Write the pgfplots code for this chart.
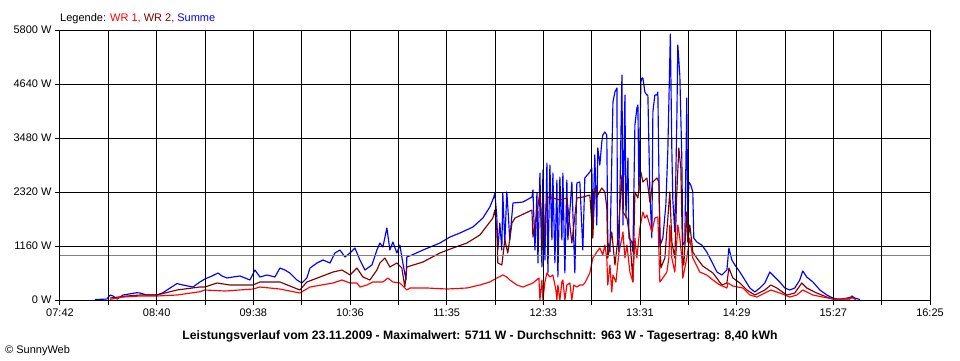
\documentclass[border=0pt]{standalone}
\usepackage{pgfplots}
\pgfplotsset{compat=1.18}
\usepackage{fontspec}
\setmainfont{Liberation Sans}
\definecolor{wr1}{RGB}{255,0,0}
\definecolor{wr2}{RGB}{128,0,0}
\definecolor{summe}{RGB}{0,0,255}
\definecolor{avg}{RGB}{128,128,128}
\newcommand{\lf}{\fontsize{11pt}{13pt}\selectfont}
\begin{document}
\begin{tikzpicture}
\useasboundingbox (-60pt,-60pt) rectangle (900pt,300pt);
\begin{axis}[
  at={(0pt,0pt)}, anchor=south west,
  width=870pt, height=270pt, scale only axis,
  xmin=462, xmax=985, ymin=0, ymax=5800,
  xtick={462,491.056,520.111,549.167,578.222,607.278,636.333,665.389,694.444,723.5,752.556,781.611,810.667,839.722,868.778,897.833,926.889,955.944,985},
  xticklabels={07:42,,08:40,,09:38,,10:36,,11:35,,12:33,,13:31,,14:29,,15:27,,16:25},
  ytick={0,1160,2320,3480,4640,5800},
  yticklabels={0 W,1160 W,2320 W,3480 W,4640 W,5800 W},
  xtick pos=bottom, ytick pos=left,
  tick align=outside, major tick length=5pt,
  grid=major, major grid style={black, line width=1pt},
  axis line style={black, line width=1pt},
  every tick/.style={black, line width=1pt},
  tick label style={font=\lf, text=black},
  axis on top,
  line join=round,
]
\addplot[summe, line width=1.15pt, sharp plot] coordinates {
(483,10)(490.2,20)(492.1,107)(493.9,86)(496.3,21)(499.9,107)(508.3,157)(510.1,150)(514.3,107)(520.3,107)(523.9,157)(532.3,354)(535.9,322)(541.9,279)(546.1,387)(549.1,451)(553.4,516)(557.0,580)(559.4,516)(562.4,473)(566.0,494)(570.2,516)(576.2,430)(579.2,644)(582.2,494)(586.4,537)(591.2,494)(594.2,687)(597.2,644)(600.2,580)(604.4,430)(607.4,365)(610.4,473)(612.3,687)(616.5,795)(620.1,859)(624.3,795)(627.3,1010)(630.3,1074)(633.3,924)(636.3,1010)(639.3,1117)(642.3,859)(645.3,644)(649.5,752)(652.5,1074)(654.3,1224)(656.1,1139)(658.5,1547)(660.3,1074)(662.1,1246)(664.5,1010)(666.3,1181)(668.1,795)(670.0,430)(670.5,924)(673.6,967)(680.2,1074)(690.4,1224)(696.4,1353)(702.4,1439)(710.2,1568)(716.2,1761)(720.4,1998)(722.8,2212)(723.4,2298)(724.6,1783)(725.2,1074)(726.4,1654)(727.6,1074)(728.2,2298)(729.4,1224)(730.6,2320)(731.2,1998)(732.4,1289)(734.3,2084)(740.3,2105)(745.7,2212)(746.3,2363)(747.5,1074)(748.7,2298)(749.3,795)(750.5,2728)(751.7,709)(752.3,2792)(753.5,859)(754.7,2943)(755.3,580)(756.5,2900)(757.7,1289)(758.3,2728)(759.5,795)(760.7,2578)(761.3,494)(762.5,2642)(763.7,1289)(764.3,2728)(765.5,580)(766.7,2578)(767.3,1289)(769.7,2535)(771.5,580)(772.7,2513)(774.5,2535)(776.3,1074)(777.5,2621)(780.5,2750)(781.7,2835)(782.3,1547)(783.5,3115)(784.7,1611)(785.3,3265)(786.5,2900)(787.7,3394)(788.3,3544)(789.5,3609)(790.7,3544)(791.3,1246)(792.6,1031)(794.4,4253)(795.6,4468)(796.8,4554)(797.1,1332)(798.0,1031)(799.8,4833)(800.4,1611)(801.6,4403)(802.2,1761)(803.4,3050)(804.0,1332)(805.8,1246)(806.4,1031)(807.6,3759)(808.8,4124)(809.4,4189)(810.0,2320)(811.2,4683)(811.8,4769)(812.4,4769)(813.6,4468)(814.8,4403)(815.4,4403)(816.6,2320)(817.8,1332)(818.4,4038)(819.6,4403)(820.8,4403)(821.4,4468)(822.6,1160)(824.4,1332)(826.2,2041)(827.4,3222)(828.9,5711)(829.8,3222)(830.4,2148)(831.6,1461)(832.8,3866)(833.4,5477)(834.6,4833)(835.8,3050)(836.4,1181)(837.6,1246)(838.8,4339)(839.4,1332)(840.0,2535)(841.2,2470)(842.4,2320)(843.0,1332)(844.8,1246)(847.8,1181)(850.8,1031)(853.9,816)(856.9,601)(859.9,537)(862.9,644)(864.1,1117)(865.9,859)(867.7,752)(870.7,601)(873.7,430)(876.7,258)(879.7,172)(882.7,258)(885.7,365)(888.7,601)(891.7,494)(894.7,387)(897.7,258)(900.7,215)(903.7,258)(906.7,430)(908.5,623)(910.9,494)(914.6,387)(918.8,215)(923.0,107)(926.6,43)(929.0,21)(936.8,21)(938.0,86)(939.8,43)(942.8,10)
};
\addplot[wr2, line width=1.15pt, sharp plot] coordinates {
(492.1,43)(502.3,86)(510.1,107)(520.3,107)(532.3,215)(546.1,279)(549.1,279)(556.4,365)(564.2,322)(578.0,322)(582.2,387)(594.2,387)(606.2,215)(610.4,387)(618.3,494)(626.1,601)(631.5,644)(634.5,580)(636.3,537)(640.5,687)(644.1,494)(648.3,430)(652.5,644)(654.3,795)(657.3,902)(660.3,709)(664.5,795)(667.5,687)(669.3,279)(670.5,709)(680.2,816)(690.4,1010)(698.2,1117)(706.6,1224)(714.4,1396)(720.4,1675)(722.2,1761)(723.4,1933)(724.6,1504)(725.2,795)(727.6,752)(729.4,1289)(731.2,1010)(733.7,1654)(735.5,1761)(745.7,1933)(746.3,1353)(750.5,2298)(752.3,1074)(754.7,2212)(758.3,2191)(762.5,2148)(766.7,2191)(769.7,1224)(772.7,2191)(776.3,2212)(780.5,2255)(782.3,1332)(783.5,2406)(785.3,2255)(787.7,2406)(789.5,2320)(790.7,1998)(791.3,902)(793.7,1461)(795.6,752)(797.4,1332)(799.8,2685)(800.4,1890)(802.8,1761)(804.6,1332)(806.4,387)(807.6,2320)(809.4,2191)(811.2,2750)(812.4,2535)(814.8,2621)(816.6,2105)(818.4,2535)(820.8,2621)(822.0,2535)(823.2,687)(825.6,902)(827.4,1761)(828.6,2320)(829.8,1246)(831.6,902)(832.8,2320)(834.0,3265)(835.2,2835)(836.4,752)(837.0,752)(838.8,1890)(839.4,1246)(840.6,1611)(841.8,1246)(842.4,1031)(844.8,902)(848.4,730)(854.5,580)(859.9,322)(862.9,365)(864.1,687)(866.5,473)(870.7,365)(874.9,215)(879.7,107)(885.7,215)(889.3,322)(892.9,258)(898.9,107)(903.7,150)(907.9,365)(910.9,258)(916.9,150)(923.0,64)(926.6,21)(930.8,10)(938.0,64)(940.4,10)
};
\addplot[wr1, line width=1.15pt, sharp plot] coordinates {
(492.1,15)(499.9,64)(510.1,86)(520.3,86)(532.3,107)(546.1,178)(549.1,215)(561.2,193)(578.0,236)(582.2,279)(594.2,236)(606.2,150)(612.3,279)(626.1,365)(631.5,430)(636.3,365)(640.5,365)(642.3,279)(646.5,322)(650.1,387)(656.1,387)(659.1,473)(662.1,387)(666.3,365)(669.3,258)(670.5,215)(672.4,258)(682.6,258)(694.6,236)(706.6,258)(714.4,322)(720.4,387)(724.6,473)(728.2,537)(730.6,494)(732.4,430)(736.7,322)(740.3,279)(746.3,365)(749.9,473)(750.5,0)(751.7,430)(752.3,0)(753.5,387)(754.7,580)(756.5,494)(758.3,537)(760.1,215)(760.7,0)(761.3,322)(762.5,0)(763.7,387)(764.3,430)(765.5,0)(766.7,322)(768.5,365)(769.7,0)(770.9,322)(772.7,279)(774.5,322)(776.3,322)(777.5,365)(780.5,580)(782.3,902)(784.7,1031)(786.5,1117)(788.3,967)(789.5,1181)(790.7,902)(791.3,322)(792.6,752)(793.7,172)(794.4,537)(796.2,387)(798.0,1031)(799.8,1332)(800.4,1461)(801.6,902)(802.8,1181)(804.6,601)(806.4,387)(807.6,1332)(808.8,902)(810.6,1547)(812.4,1890)(813.6,1761)(814.8,1826)(816.6,1611)(817.8,1461)(819.6,1761)(821.4,1783)(822.6,387)(824.4,473)(826.8,601)(828.0,902)(828.6,1611)(829.8,902)(831.6,601)(833.4,1611)(834.6,1332)(835.8,902)(836.4,473)(838.8,902)(840.6,1332)(842.4,902)(846.6,601)(850.8,537)(854.5,430)(858.7,322)(862.9,258)(863.5,365)(866.5,301)(872.5,258)(876.7,107)(880.9,64)(885.7,150)(889.3,215)(894.7,150)(900.7,64)(904.9,107)(908.5,215)(914.6,107)(920.6,64)(926.6,21)(930.8,10)(938.6,43)(940.4,10)
};
\addplot[avg, line width=1pt] coordinates {(462,963)(985,963)};
\end{axis}
\node[anchor=base west, inner sep=0pt, font=\lf] at (0pt,279pt) {Legende: \textcolor{wr1}{WR 1,} \textcolor{wr2}{WR 2,} \textcolor{summe}{Summe}};
\node[anchor=base, inner sep=0pt, font=\fontsize{12.2pt}{14pt}\selectfont\bfseries] at (420pt,-39pt) {Leistungsverlauf vom 23.11.2009 - Maximalwert: 5711 W - Durchschnitt: 963 W - Tagesertrag: 8,40 kWh};
\node[anchor=base west, inner sep=0pt, font=\lf] at (-55pt,-53pt) {© SunnyWeb};
\end{tikzpicture}
\end{document}
